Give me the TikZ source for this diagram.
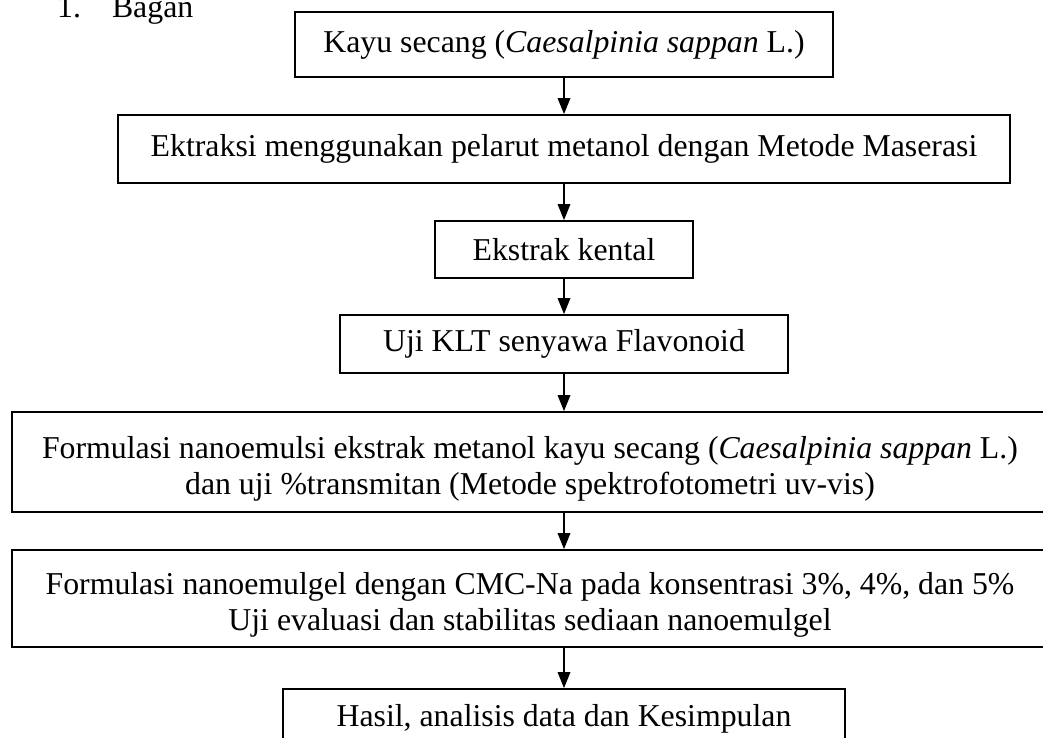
\documentclass[tikz,border=0pt]{standalone}
\usepackage{fontspec}
\setmainfont{Liberation Serif}
\usetikzlibrary{arrows.meta}
\begin{document}
\begin{tikzpicture}[x=1pt,y=-1pt,
  txt/.style={inner sep=0pt, align=center, font=\fontsize{31.8}{36}\selectfont},
  box/.style={draw, line width=1.7pt, inner sep=0pt, txt},
  arr/.style={line width=1.7pt, -{Triangle[length=16pt,width=12.5pt]}}]
\clip (0,0) rectangle (1043,738);
\fill[white] (0,0) rectangle (1043,738);
\node[txt, anchor=base west] (lbl) at (57,18) {1.\hspace{31pt}Bagan};
\node[box, minimum width=538, minimum height=65] (b1) at (564,44.5) {Kayu secang (\textit{Caesalpinia sappan} L.)};
\node[box, minimum width=892, minimum height=68] (b2) at (564,149) {Ektraksi menggunakan pelarut metanol dengan Metode Maserasi};
\node[box, minimum width=258, minimum height=57] (b3) at (564,249.5) {Ekstrak kental};
\node[box, minimum width=448, minimum height=58] (b4) at (564,344) {Uji KLT senyawa Flavonoid};
\node[box, minimum width=1040, minimum height=100] (b5) at (532,462) {};
\node[txt] (t5) at (530,469) {Formulasi nanoemulsi ekstrak metanol kayu secang (\textit{Caesalpinia sappan} L.)\\dan uji \%transmitan (Metode spektrofotometri uv-vis)};
\node[box, minimum width=1040, minimum height=97] (b6) at (532,598.5) {};
\node[txt] (t6) at (530,605) {Formulasi nanoemulgel dengan CMC-Na pada konsentrasi 3\%, 4\%, dan 5\%\\Uji evaluasi dan stabilitas sediaan nanoemulgel};
\node[box, minimum width=562, minimum height=60] (b7) at (564,719) {Hasil, analisis data dan Kesimpulan};
\draw[arr] (b1.south) -- (b2.north);
\draw[arr] (b2.south) -- (b3.north);
\draw[arr] (b3.south) -- (b4.north);
\draw[arr] (b4.south) -- (b5.north -| b4.south);
\draw[arr] (b5.south -| b4.south) -- (b6.north -| b4.south);
\draw[arr] (b6.south -| b4.south) -- (b7.north);
\end{tikzpicture}
\end{document}
